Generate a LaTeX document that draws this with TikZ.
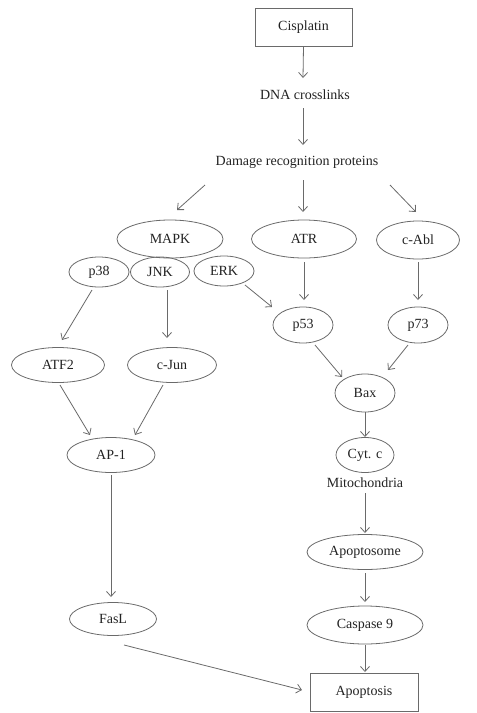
\documentclass[tikz,border=0pt]{standalone}
\usepackage{fontspec}
\setmainfont{Liberation Serif}
\usetikzlibrary{arrows.meta,shapes.geometric}
\definecolor{linegray}{HTML}{6A6A6A}
\definecolor{txt}{HTML}{222222}
\tikzset{
  ell/.style={ellipse,draw=linegray,line width=0.8pt,inner sep=0pt,text=txt,font=\fontsize{14}{16}\selectfont},
  boxn/.style={rectangle,draw=linegray,line width=0.8pt,inner sep=0pt,text=txt,font=\fontsize{14}{16}\selectfont},
  lbl/.style={inner sep=0pt,text=txt,font=\fontsize{14}{16}\selectfont},
  arr/.style={draw=linegray,line width=0.8pt,-{Straight Barb[length=5pt,width=9pt]}}
}
\begin{document}
\begin{tikzpicture}[x=1pt,y=-1pt]
\useasboundingbox (0,0) rectangle (477,713);
% nodes
\node[boxn,minimum width=97pt,minimum height=38pt] (cis) at (303.5,27) {Cisplatin};
\node[lbl] (dna) at (305,95) {DNA crosslinks};
\node[lbl] (drp) at (297,162) {Damage recognition proteins};
\node[ell,minimum width=106pt,minimum height=38pt] (mapk) at (170,239) {MAPK};
\node[ell,minimum width=105pt,minimum height=38pt] (atr) at (304,239) {ATR};
\node[ell,minimum width=83pt,minimum height=38pt] (cabl) at (418,240) {c-Abl};
\node[ell,minimum width=60pt,minimum height=30pt] (p38) at (99,272) {p38};
\node[ell,minimum width=59pt,minimum height=30pt] (jnk) at (160,272) {JNK};
\node[ell,minimum width=60pt,minimum height=30pt] (erk) at (224,271) {ERK};
\node[ell,minimum width=60pt,minimum height=36pt] (p53) at (303,325) {p53};
\node[ell,minimum width=60pt,minimum height=36pt] (p73) at (418,325) {p73};
\node[ell,minimum width=93pt,minimum height=35pt] (atf2) at (58,365) {ATF2};
\node[ell,minimum width=89pt,minimum height=35pt] (cjun) at (172,365) {c-Jun};
\node[ell,minimum width=60pt,minimum height=38pt] (bax) at (365,393) {Bax};
\node[ell,minimum width=88pt,minimum height=35pt] (ap1) at (111,455) {AP-1};
\node[ell,minimum width=58pt,minimum height=35pt] (cytc) at (365,455) {Cyt. c};
\node[lbl] (mito) at (365,483) {Mitochondria};
\node[ell,minimum width=116pt,minimum height=35pt] (apop) at (365,552) {Apoptosome};
\node[ell,minimum width=87pt,minimum height=33pt] (fasl) at (113,619) {FasL};
\node[ell,minimum width=116pt,minimum height=38pt] (casp) at (365,625) {Caspase 9};
\node[boxn,minimum width=108pt,minimum height=38pt] (apopt) at (364,692) {Apoptosis};
% connectors
\draw[arr] (cis.south) -- ([shift={(-2,-17)}]dna.center);
\draw[arr] ([shift={(-2,13)}]dna.center) -- ([shift={(6,-17)}]drp.center);
\draw[arr] ([shift={(-92,23)}]drp.center) -- ([shift={(7,-29)}]mapk.center);
\draw[arr] ([shift={(6,18)}]drp.center) -- ([shift={(-1,-27)}]atr.center);
\draw[arr] ([shift={(93,23)}]drp.center) -- ([shift={(-2,-28)}]cabl.center);
\draw[arr] ([shift={(0,23)}]atr.center) -- ([shift={(1,-25)}]p53.center);
\draw[arr] ([shift={(0,22)}]cabl.center) -- ([shift={(0,-25)}]p73.center);
\draw[arr] ([shift={(21,14)}]erk.center) -- ([shift={(-31,-18)}]p53.center);
\draw[arr] ([shift={(-7,18)}]p38.center) -- ([shift={(4,-25)}]atf2.center);
\draw[arr] ([shift={(7,18)}]jnk.center) -- ([shift={(-5,-27)}]cjun.center);
\draw[arr] ([shift={(2,20)}]atf2.center) -- ([shift={(-21,-20)}]ap1.center);
\draw[arr] ([shift={(-9,20)}]cjun.center) -- ([shift={(24,-20)}]ap1.center);
\draw[arr] ([shift={(12,20)}]p53.center) -- ([shift={(-23,-16)}]bax.center);
\draw[arr] ([shift={(-10,20)}]p73.center) -- ([shift={(23,-23)}]bax.center);
\draw[arr] ([shift={(0,19)}]bax.center) -- ([shift={(0,-18)}]cytc.center);
\draw[arr] ([shift={(0,10)}]mito.center) -- ([shift={(0,-19)}]apop.center);
\draw[arr] ([shift={(0,21)}]apop.center) -- ([shift={(0,-23)}]casp.center);
\draw[arr] ([shift={(0,20)}]casp.center) -- ([shift={(1,-20)}]apopt.center);
\draw[arr] ([shift={(0,20)}]ap1.center) -- ([shift={(-2,-22)}]fasl.center);
\draw[arr] ([shift={(11,26)}]fasl.center) -- ([shift={(-62,-2)}]apopt.center);
\end{tikzpicture}
\end{document}
